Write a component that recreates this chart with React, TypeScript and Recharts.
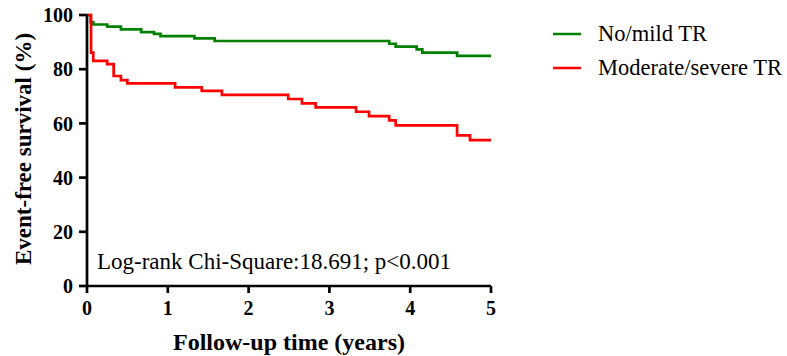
import React from "react";
import { LineChart, Line, XAxis, YAxis, Label, Customized } from "recharts";

const timeMild = [0, 0.046, 0.078, 0.25, 0.42, 0.67, 0.83, 0.91, 1.33, 1.58, 3.74, 3.82, 4.08, 4.15, 4.58, 5];
const survMild = [100, 97.4, 96.5, 95.7, 94.7, 93.7, 93.0, 92.2, 91.4, 90.4, 89.4, 88.3, 87.3, 86.1, 84.9, 84.9];

const timeSevere = [0, 0.05, 0.078, 0.25, 0.33, 0.42, 0.5, 1.09, 1.42, 1.67, 2.49, 2.66, 2.83, 3.33, 3.49, 3.74, 3.82, 4.58, 4.74, 5];
const survSevere = [100, 86.1, 83.1, 81.9, 77.5, 76.0, 74.8, 73.3, 72.0, 70.5, 69.0, 67.4, 65.9, 64.3, 62.7, 61.1, 59.3, 55.6, 53.8, 53.8];

const xTicks = [0, 1, 2, 3, 4, 5];
const yTicks = [0, 20, 40, 60, 80, 100];

const seriesNames = ["No/mild TR", "Moderate/severe TR"];
const seriesColors = ["#008000", "#ff0000"];
const annotation = "Log-rank Chi-Square:18.691; p<0.001";
const xTitle = "Follow-up time (years)";
const yTitle = "Event-free survival (%)";

const mildData = timeMild.map((t, i) => ({ t, s: survMild[i] }));
const severeData = timeSevere.map((t, i) => ({ t, s: survSevere[i] }));

const FONT = "'Liberation Serif', 'Times New Roman', serif";

const Overlay = () => (
  <g>
    <text x={97} y={269} fontFamily={FONT} fontSize={23} fill="#000">
      {annotation}
    </text>
    {seriesNames.map((n, i) => (
      <g key={n}>
        <line x1={553} x2={581} y1={34 + i * 34} y2={34 + i * 34} stroke={seriesColors[i]} strokeWidth={2.5} />
        <text x={598} y={41 + i * 34} fontFamily={FONT} fontSize={22.5} fill="#000">
          {n}
        </text>
      </g>
    ))}
  </g>
);

const tickStyle = { fill: "#000", fontFamily: FONT, fontSize: 20, fontWeight: "bold" };

export default function App() {
  return (
    <div style={{ position: "absolute", left: 0, top: 0, width: 787, height: 356, background: "#fff" }}>
      <LineChart width={787} height={356} margin={{ top: 15, right: 296, bottom: 0, left: 0 }}>
        <XAxis
          type="number"
          dataKey="t"
          domain={[0, 5]}
          ticks={xTicks}
          allowDataOverflow
          stroke="#000"
          strokeWidth={2.7}
          tickSize={7}
          tickMargin={8}
          height={70}
          tick={tickStyle}
        >
          <Label
            content={() => (
              <text x={289} y={350} textAnchor="middle" fontFamily={FONT} fontSize={24} fontWeight="bold" fill="#000">
                {xTitle}
              </text>
            )}
          />
        </XAxis>
        <YAxis
          type="number"
          dataKey="s"
          domain={[0, 100]}
          ticks={yTicks}
          stroke="#000"
          strokeWidth={2.7}
          tickSize={8}
          tickMargin={6}
          width={87}
          tick={tickStyle}
        >
          <Label
            content={() => (
              <text
                x={0}
                y={0}
                transform="translate(31,149) rotate(-90)"
                textAnchor="middle"
                fontFamily={FONT}
                fontSize={23}
                fontWeight="bold"
                fill="#000"
              >
                {yTitle}
              </text>
            )}
          />
        </YAxis>
        <Line
          data={mildData}
          dataKey="s"
          type="stepAfter"
          stroke={seriesColors[0]}
          strokeWidth={2.7}
          dot={false}
          isAnimationActive={false}
        />
        <Line
          data={severeData}
          dataKey="s"
          type="stepAfter"
          stroke={seriesColors[1]}
          strokeWidth={2.7}
          dot={false}
          isAnimationActive={false}
        />
        <Customized component={Overlay} />
      </LineChart>
    </div>
  );
}
